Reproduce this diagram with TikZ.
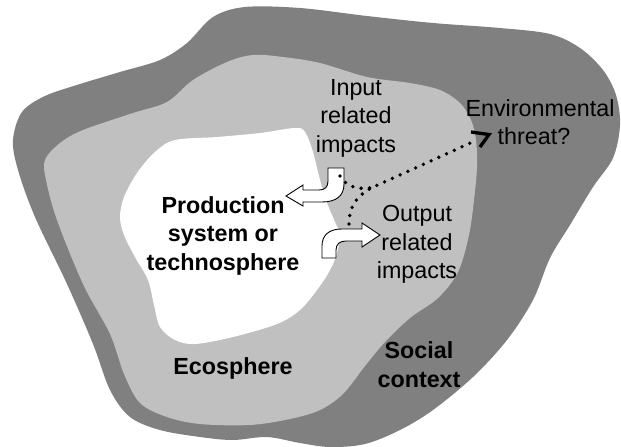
\documentclass[tikz,border=0pt]{standalone}
\usepackage{fontspec}
\setmainfont{Liberation Sans}
\definecolor{socialgray}{RGB}{128,128,128}
\definecolor{ecogray}{RGB}{192,192,192}
\begin{document}
\begin{tikzpicture}[x=1pt,y=-1pt,
  lbl/.style={font=\fontsize{23.3}{28.5}\selectfont, align=center, inner sep=0pt},
  blbl/.style={font=\fontsize{23.3}{28.5}\selectfont\bfseries, align=center, inner sep=0pt},
  bigarrow/.style={draw=black, fill=white, line width=0.9pt, line join=miter},
  dotline/.style={line width=3.8pt, line cap=round, dash pattern=on 0pt off 8.5pt},
  threathead/.style={line width=3.3pt, line join=miter, miter limit=10},
]
\useasboundingbox (0,0) rectangle (621,447);
% social context
\fill[socialgray] plot[smooth cycle, tension=0.55] coordinates {
 (13,140) (22,112) (45,96) (80,84) (120,72) (160,60) (187,43) (213,17) (245,7)
 (300,8) (367,16) (433,23) (500,28) (550,34) (580,48) (603,70) (616,95) (620,125)
 (613,158) (593,187) (570,225) (550,258) (533,300) (507,340) (473,377) (433,410)
 (400,430) (365,444) (330,447) (300,443) (267,437) (233,440) (200,437) (160,430)
 (130,417) (110,390) (93,344) (67,284) (35,217) (18,170)};
% ecosphere
\fill[ecogray] plot[smooth cycle, tension=0.55] coordinates {
 (45,160) (60,143) (83,130) (133,113) (167,102) (193,80) (227,62) (253,55) (283,57)
 (320,63) (367,77) (410,83) (440,90) (460,103) (471,120) (476,140) (477,167)
 (474,200) (469,235) (458,272) (438,298) (410,318) (385,342) (365,366) (343,394)
 (320,410) (290,419) (250,425) (200,424) (167,417) (140,403) (124,374) (110,334)
 (83,284) (57,220) (46,180)};
% technosphere
\fill[white] plot[smooth cycle, tension=0.55] coordinates {
 (295,128) (260,133) (217,137) (175,140) (155,152) (137,173) (124,197) (120,217)
 (124,235) (135,257) (148,280) (154,305) (160,327) (175,340) (195,344) (233,337)
 (277,324) (300,310) (317,290) (329,272) (336,256) (340,236) (335,222) (327,203)
 (320,180) (313,152) (305,132)};

% labels
\node[lbl] (input) at (356,118) {Input\\related\\impacts};
\node[lbl] (threat) at (540,122) {Environmental\\threat?\hspace*{12pt}};
\node[blbl] (prod) at (223,235.5) {Production\\system or\\technosphere};
\node[lbl] (output) at (417,244.5) {Output\\related\\impacts};
\node[blbl] (eco) at (233,368) {Ecosphere};
\node[blbl] (social) at (419,364.5) {Social\\context};

% input related arrow (points left)
\draw[bigarrow] (328,168) -- (344,168) -- (344,184)
  .. controls (344,196) and (336,202) .. (322,202) -- (303,202) -- (303,206)
  -- (286,196) -- (303,185) -- (303,190) -- (319,190)
  .. controls (325,190) and (328,187) .. (328,181) -- cycle;
% output related arrow (points right)
\draw[bigarrow] (322,258) -- (322,246)
  .. controls (322,235) and (329,229) .. (342,229) -- (362,229) -- (362,223)
  -- (380,235) -- (362,247) -- (362,241) -- (346,241)
  .. controls (340,241) and (336,244) .. (336,250) -- (336,258) -- cycle;

% dotted pathways
\coordinate (inA) at (340,176);
\coordinate (outA) at (349,224);
\coordinate (join) at (380,184);
\coordinate (merge) at (372,187.7);
\coordinate (tipbase) at (477,140);
\coordinate (tip) at (489,134.5);
\coordinate (b1) at (471,132);
\coordinate (b2) at (480,147);
\draw[dotline] (inA) .. controls (346,186) and (356,190) .. (merge);
\draw[dotline] (outA) .. controls (349,205) and (358,193) .. (join) -- (tipbase);
\draw[threathead] (b1) -- (tip) -- (b2);
\end{tikzpicture}
\end{document}
